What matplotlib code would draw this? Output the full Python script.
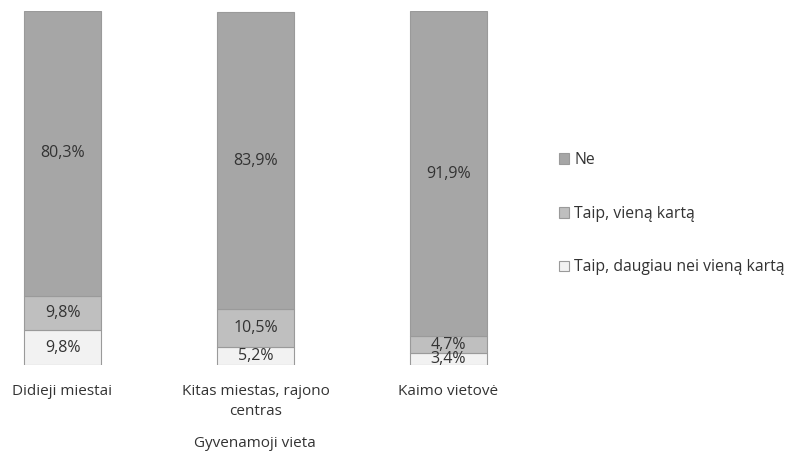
import matplotlib.pyplot as plt
import numpy as np

plt.rcParams['font.family'] = ['Open Sans', 'DejaVu Sans']

categories = ['Didieji miestai', 'Kitas miestas, rajono\ncentras', 'Kaimo vietovė']
series_names = ['Taip, daugiau nei vieną kartą', 'Taip, vieną kartą', 'Ne']
daugiau = [9.8, 5.2, 3.4]
viena = [9.8, 10.5, 4.7]
ne = [80.3, 83.9, 91.9]
colors = ['#f2f2f2', '#bfbfbf', '#a6a6a6']

fig = plt.figure(figsize=(7.9, 4.55), dpi=100)
ax = fig.add_axes([10 / 790, 90 / 455, 490 / 790, 354 / 455])

x = np.arange(len(categories))
bottom = np.zeros(len(categories))
handles = []
for name, vals, col in zip(series_names, [daugiau, viena, ne], colors):
    bars = ax.bar(x, vals, bottom=bottom, width=0.4, color=col,
                  edgecolor='#9a9a9a', linewidth=0.8, label=name)
    handles.append(bars)
    for xi, b, v in zip(x, bottom, vals):
        ax.text(xi, b + v / 2, f"{v:.1f}%".replace('.', ','), ha='center',
                va='center', fontsize=11.5, color='#333333')
    bottom += np.array(vals)

ax.set_xlim(-52.5 / 193, 437.5 / 193)
ax.set_ylim(0, 100)
for s in ax.spines.values():
    s.set_visible(False)
ax.set_yticks([])
ax.set_xticks(x)
ax.set_xticklabels(categories, fontsize=11, color='#333333', linespacing=1.4)
ax.tick_params(axis='x', length=0, pad=14)
ax.set_xlabel('Gyvenamoji vieta', fontsize=11, color='#333333', labelpad=12)

leg = fig.legend(handles[::-1], series_names[::-1], loc='upper left',
                 bbox_to_anchor=(545 / 790, 1 - 138 / 455), frameon=False,
                 fontsize=11.3, labelspacing=2.4, handlelength=0.65,
                 handleheight=0.65, handletextpad=0.3)
for t in leg.get_texts():
    t.set_color('#333333')

fig.savefig('out.png', dpi=100)
